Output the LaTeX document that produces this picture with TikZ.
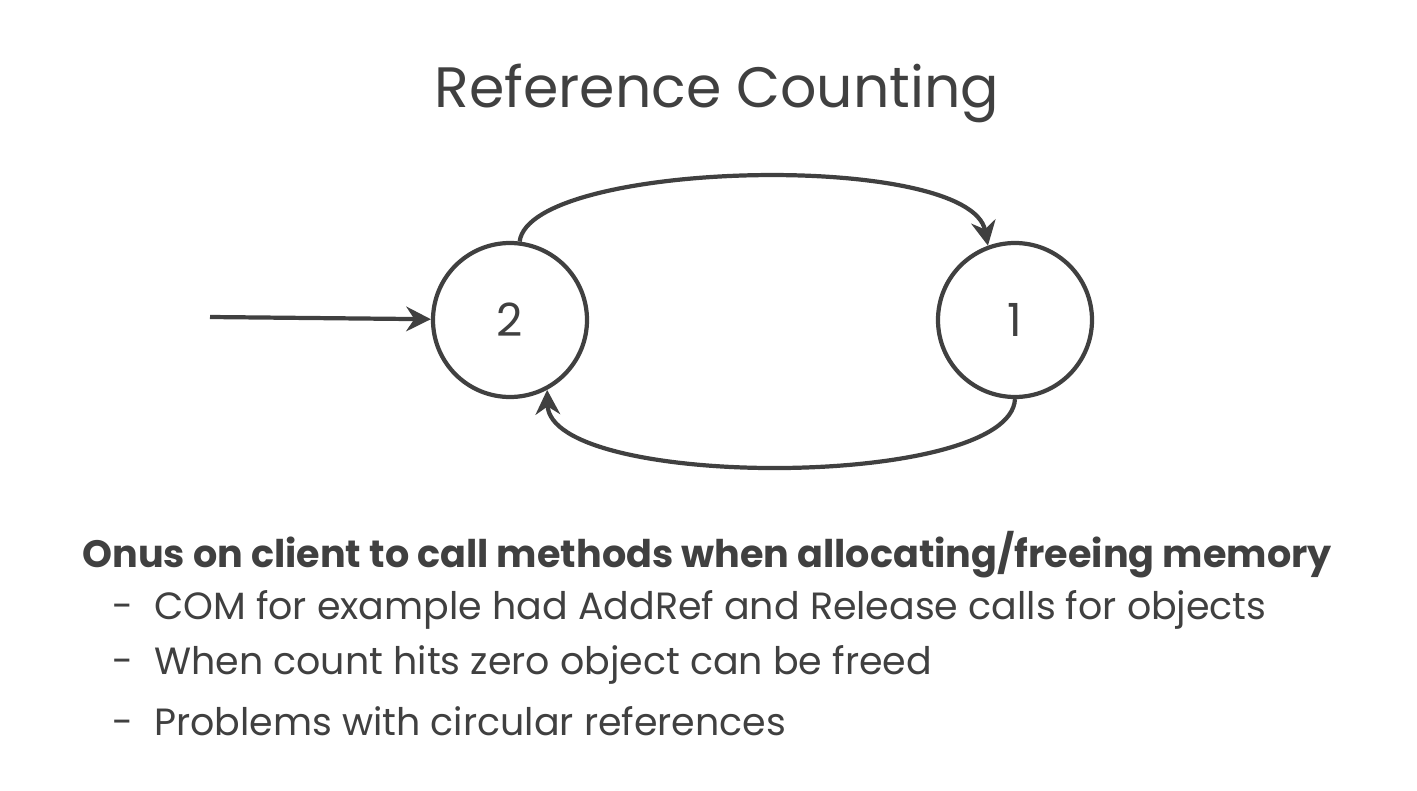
\documentclass[tikz,border=0pt]{standalone}
\usepackage{fontspec}
\setmainfont{Poppins}
\usetikzlibrary{positioning, arrows.meta}
\definecolor{ink}{HTML}{404040}
\tikzset{
every state/.style={circle, draw=ink, line width=1.2pt, minimum size=1.54cm, font=\fontsize{13}{16}\selectfont, text=ink},
link/.style={draw=ink, line width=1.2pt, -{Stealth[length=7pt,width=7pt]}},
bullet/.style={anchor=west, text=ink, font=\fontsize{10.8}{13}\selectfont},
}
\begin{document}
\begin{tikzpicture}
  \useasboundingbox (0,0) rectangle (14.17,7.9);
  \node[text=ink, font=\fontsize{16.2}{20}\selectfont] (title) at (7.17,6.97) {Reference Counting};
  \node[every state] (two) at (5.10,4.70) {2};
  \node[every state] (one) at (10.15,4.70) {1};
  \coordinate (start) at (2.10,4.73);
  \draw[link] (start) -- (two);
  \draw[link] (two.83) .. controls (5.3,6.3) and (9.7,6.4) .. (one.110);
  \draw[link] (one.-90) .. controls (10.1,3.0) and (5.5,3.0) .. (two.-62);
  \node[bullet, font=\bfseries\fontsize{10.85}{13}\selectfont] (head) at (0.70,2.35) {Onus on client to call methods when allocating/freeing memory};
  \node[bullet] (b1) at (1.00,1.80) {-\hspace{0.55em}COM for example had AddRef and Release calls for objects};
  \node[bullet] (b2) at (1.00,1.25) {-\hspace{0.55em}When count hits zero object can be freed};
  \node[bullet] (b3) at (1.00,0.69) {-\hspace{0.55em}Problems with circular references};
\end{tikzpicture}
\end{document}
